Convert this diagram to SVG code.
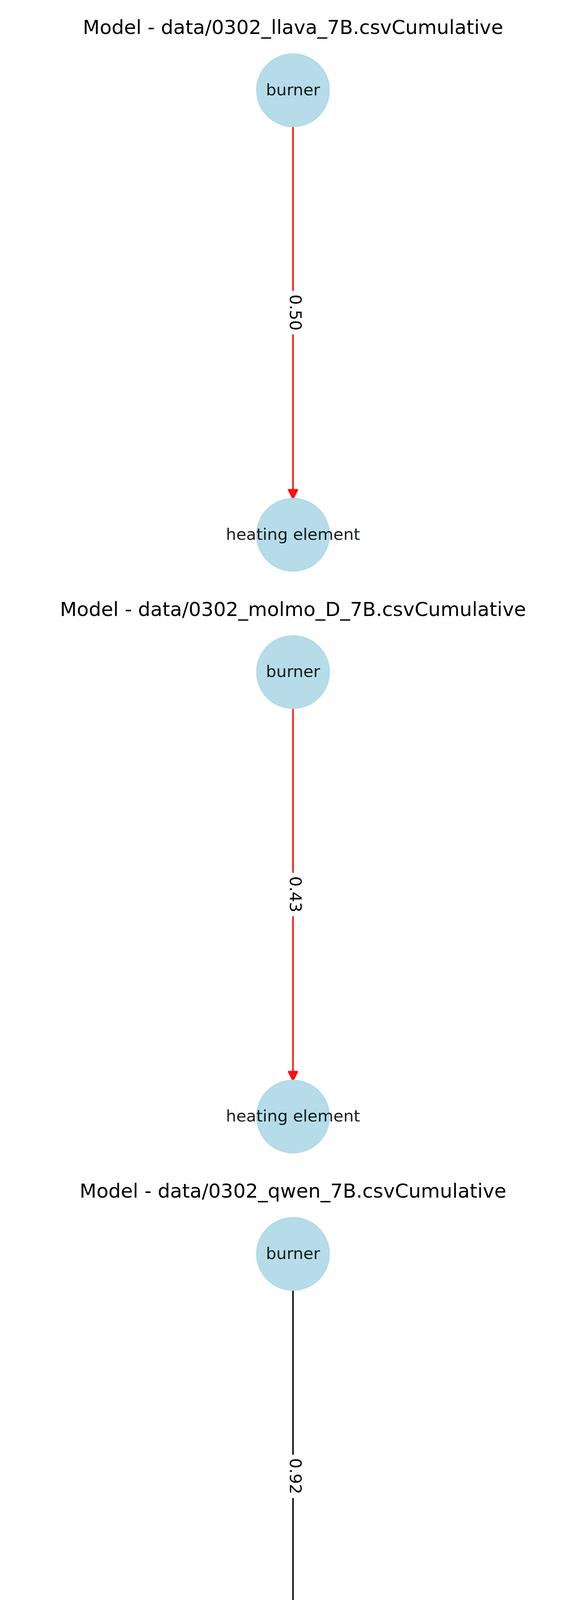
<svg xmlns="http://www.w3.org/2000/svg" width="1500" height="6000" viewBox="0 0 1500 6000">
<style>
  .title { font-family: "DejaVu Sans", "Liberation Sans", sans-serif; font-size: 50px; fill: #000; text-anchor: middle; }
  .node circle { fill: #ADD8E6; fill-opacity: 0.9; stroke: #ADD8E6; stroke-opacity: 0.9; stroke-width: 3; }
  .node text { font-family: "DejaVu Sans", "Liberation Sans", sans-serif; font-size: 41.67px; fill: #000; fill-opacity: 0.9; text-anchor: middle; }
  .edge { stroke-width: 4.17; stroke-opacity: 0.9; fill: none; }
  .edge.red { stroke: #FF0000; }
  .edge.black { stroke: #000000; }
  .lblbox { fill: #FFFFFF; stroke: none; }
  .elabel { font-family: "DejaVu Sans", "Liberation Sans", sans-serif; font-size: 41.67px; fill: #000; text-anchor: middle; }
</style>
<defs>
  <marker id="arrow-red" markerUnits="userSpaceOnUse" markerWidth="30" markerHeight="30" viewBox="-4 -12 24 24" refX="0" refY="0" orient="auto" overflow="visible">
    <path d="M0,-8.3 L16.7,0 L0,8.3 Z" fill="#FF0000" fill-opacity="0.9" stroke="#FF0000" stroke-opacity="0.9" stroke-width="4.17" stroke-linejoin="round"/>
  </marker>
  <marker id="arrow-black" markerUnits="userSpaceOnUse" markerWidth="30" markerHeight="30" viewBox="-4 -12 24 24" refX="0" refY="0" orient="auto" overflow="visible">
    <path d="M0,-8.3 L16.7,0 L0,8.3 Z" fill="#000000" fill-opacity="0.9" stroke="#000000" stroke-opacity="0.9" stroke-width="4.17" stroke-linejoin="round"/>
  </marker>
</defs>
<rect x="0" y="0" width="1500" height="6000" fill="#FFFFFF"/>

<!-- Subplot 1 -->
<text class="title" x="750" y="87">Model - data/0302_llava_7B.csvCumulative</text>
<g id="connectors-1">
  <line class="edge red" x1="750" y1="325" x2="750" y2="1254.3" marker-end="url(#arrow-red)"/>
  <rect class="lblbox" x="730" y="745" width="46" height="111" rx="8"/>
  <text class="elabel" transform="translate(742,800) rotate(90)" x="0" y="0">0.50</text>
</g>
<g id="node-1-burner" class="node">
  <circle cx="750" cy="231" r="93"/>
  <text x="750" y="243.5">burner</text>
</g>
<g id="node-1-heating-element" class="node">
  <circle cx="750" cy="1369" r="93"/>
  <text x="750" y="1381.5">heating element</text>
</g>

<!-- Subplot 2 -->
<text class="title" x="750" y="1576.5">Model - data/0302_molmo_D_7B.csvCumulative</text>
<g id="connectors-2">
  <line class="edge red" x1="750" y1="1814.5" x2="750" y2="2743.8" marker-end="url(#arrow-red)"/>
  <rect class="lblbox" x="730" y="2234.5" width="46" height="111" rx="8"/>
  <text class="elabel" transform="translate(742,2289.5) rotate(90)" x="0" y="0">0.43</text>
</g>
<g id="node-2-burner" class="node">
  <circle cx="750" cy="1720.5" r="93"/>
  <text x="750" y="1733">burner</text>
</g>
<g id="node-2-heating-element" class="node">
  <circle cx="750" cy="2858.5" r="93"/>
  <text x="750" y="2871">heating element</text>
</g>

<!-- Subplot 3 -->
<text class="title" x="750" y="3066">Model - data/0302_qwen_7B.csvCumulative</text>
<g id="connectors-3">
  <line class="edge black" x1="750" y1="3304" x2="750" y2="4233.3" marker-end="url(#arrow-black)"/>
  <rect class="lblbox" x="730" y="3724" width="46" height="111" rx="8"/>
  <text class="elabel" transform="translate(742,3779) rotate(90)" x="0" y="0">0.92</text>
</g>
<g id="node-3-burner" class="node">
  <circle cx="750" cy="3210" r="93"/>
  <text x="750" y="3222.5">burner</text>
</g>
<g id="node-3-heating-element" class="node">
  <circle cx="750" cy="4348" r="93"/>
  <text x="750" y="4360.5">heating element</text>
</g>

<!-- Subplot 4 -->
<text class="title" x="750" y="4555.5">Model - data/0306_mllama_11B.csvCumulative</text>
<g id="connectors-4">
  <line class="edge black" x1="750" y1="4793.5" x2="750" y2="5722.8" marker-end="url(#arrow-black)"/>
  <rect class="lblbox" x="730" y="5213.5" width="46" height="111" rx="8"/>
  <text class="elabel" transform="translate(742,5268.5) rotate(90)" x="0" y="0">1.00</text>
</g>
<g id="node-4-burner" class="node">
  <circle cx="750" cy="4699.5" r="93"/>
  <text x="750" y="4712">burner</text>
</g>
<g id="node-4-heating-element" class="node">
  <circle cx="750" cy="5837.5" r="93"/>
  <text x="750" y="5850">heating element</text>
</g>
</svg>
